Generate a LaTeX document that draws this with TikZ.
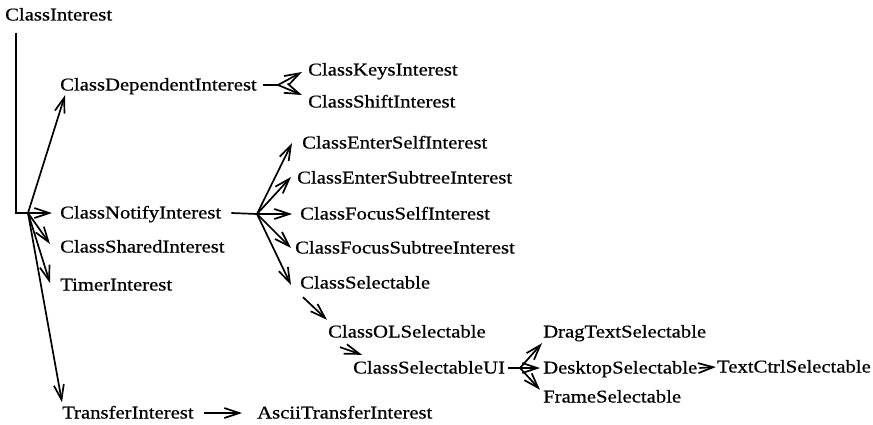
\documentclass[tikz,border=0pt]{standalone}
\usepackage{fontspec}
\setmainfont[FakeStretch=1.15,FakeBold=0.7]{Liberation Serif}
\usetikzlibrary{arrows.meta}
\begin{document}
\begin{tikzpicture}[x=1pt,y=-1pt,
  cls/.style={anchor=west,inner sep=0pt,text height=11pt,text depth=0pt,
    font=\fontsize{18pt}{20pt}\selectfont},
  link/.style={line width=1.7pt},
  arr/.style={link,-{Straight Barb[length=15pt,width=10pt,line width=1.7pt]}}]
\useasboundingbox (0,0) rectangle (873,425);

% class names
\node[cls] (ci)    at (5,15)    {ClassInterest};
\node[cls] (cdi)   at (60,85)   {ClassDependentInterest};
\node[cls] (cki)   at (308,70)  {ClassKeysInterest};
\node[cls] (cshi)  at (308,102) {ClassShiftInterest};
\node[cls] (cni)   at (60,213)  {ClassNotifyInterest};
\node[cls] (csh)   at (60,247)  {ClassSharedInterest};
\node[cls] (ti)    at (60,285)  {TimerInterest};
\node[cls] (tri)   at (62,413)  {TransferInterest};
\node[cls] (ati)   at (257,413) {AsciiTransferInterest};
\node[cls] (cesi)  at (302,143) {ClassEnterSelfInterest};
\node[cls] (cesti) at (297,178) {ClassEnterSubtreeInterest};
\node[cls] (cfsi)  at (300,214) {ClassFocusSelfInterest};
\node[cls] (cfsti) at (295,248) {ClassFocusSubtreeInterest};
\node[cls] (cs)    at (300,283) {ClassSelectable};
\node[cls] (cols)  at (328,332) {ClassOLSelectable};
\node[cls] (csui)  at (353,368) {ClassSelectableUI};
\node[cls] (dts)   at (543,332) {DragTextSelectable};
\node[cls] (ds)    at (543,368) {DesktopSelectable};
\node[cls] (fs)    at (543,397) {FrameSelectable};
\node[cls,anchor=east] (tcs) at (871,367) {TextCtrlSelectable};

% branching points
\coordinate (hub)  at (28,213);
\coordinate (fanD) at (278,85);
\coordinate (fanN) at (257,214);
\coordinate (fanU) at (520,368);

% trunk from the root class
\draw[link,line width=1.2pt,-{Straight Barb[length=15pt,width=10pt,line width=1.7pt]}]
  ([xshift=11pt,yshift=-12pt]ci.south west) |- ([xshift=-8pt]cni.west);
\draw[arr] (hub) -- ([xshift=5pt,yshift=-4.5pt]cdi.south west);
\draw[arr] (hub) -- ([xshift=-10pt,yshift=3pt]csh.west);
\draw[arr] (hub) -- ([xshift=-10pt,yshift=2pt]ti.west);
\draw[arr] (hub) -- ([yshift=5pt]tri.north west);
\draw[arr] ([xshift=10pt]tri.east) -- ([xshift=-15pt]ati.west);

% dependent interests
\draw[link] ([xshift=6pt]cdi.east) -- (fanD);
\draw[arr] (fanD) -- ([xshift=-6pt,yshift=-2pt]cki.west);
\draw[arr] (fanD) -- ([xshift=-6pt,yshift=7pt]cshi.west);

% notify interests
\draw[link] ([xshift=10pt]cni.east) -- (fanN);
\draw[arr] (fanN) -- ([xshift=-10pt]cesi.west);
\draw[arr] (fanN) -- ([xshift=-6pt,yshift=1pt]cesti.west);
\draw[arr] (fanN) -- ([xshift=-8pt]cfsi.west);
\draw[arr] (fanN) -- ([xshift=-4pt]cfsti.west);
\draw[arr] (fanN) -- ([xshift=-9pt,yshift=-2pt]cs.west);

% selectable chain
\draw[arr] ([xshift=3pt,yshift=-8.5pt]cs.south west) -- ([xshift=-1pt,yshift=6.5pt]cols.north west);
\draw[arr] ([xshift=12pt,yshift=-9.5pt]cols.south west) -- ([xshift=9pt,yshift=7.5pt]csui.north west);
\draw[link] ([xshift=3pt]csui.east) -- (fanU);
\draw[arr] (fanU) -- ([xshift=-1pt,yshift=-5.5pt]dts.south west);
\draw[arr] (fanU) -- ([xshift=-3pt]ds.west);
\draw[arr] (fanU) -- ([xshift=-3pt,yshift=1.5pt]fs.north west);
\draw[arr] ([xshift=2pt]ds.east) -- ([xshift=-1pt]tcs.west);
\end{tikzpicture}
\end{document}
